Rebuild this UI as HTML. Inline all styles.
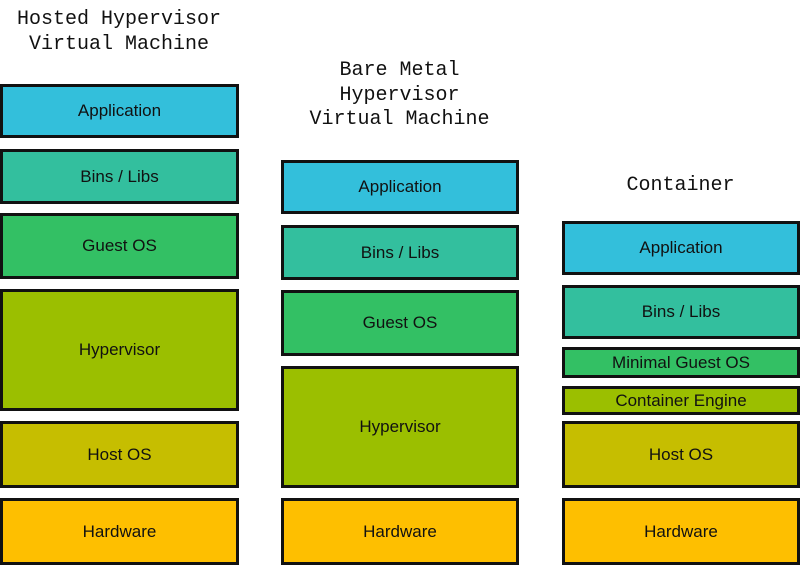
<!DOCTYPE html>
<html><head><meta charset="utf-8"><style>
html,body{margin:0;padding:0;background:#fff;width:800px;height:566px;overflow:hidden;position:relative}
.b{position:absolute;box-sizing:border-box;border:3px solid #111;display:flex;align-items:center;justify-content:center;font-family:"Liberation Sans",sans-serif;font-size:17px;color:#111}
.t{position:absolute;font-family:"Liberation Mono",monospace;font-size:20px;line-height:24.5px;color:#111;text-align:center;white-space:pre}
.ap{background:#33bfdb}.bl{background:#33bf9e}.go{background:#33c064}.hv{background:#9bbf00}.ho{background:#c6be00}.hw{background:#febf00}
</style></head><body>
<div class="t" style="left:0;width:238px;top:8px">Hosted Hypervisor
Virtual Machine</div>
<div class="t" style="left:281px;width:237px;top:59px">Bare Metal
Hypervisor
Virtual Machine</div>
<div class="t" style="left:562px;width:237px;top:174px">Container</div>

<div class="b ap" style="left:0;top:84px;width:239px;height:54px">Application</div>
<div class="b bl" style="left:0;top:149px;width:239px;height:55px">Bins / Libs</div>
<div class="b go" style="left:0;top:213px;width:239px;height:66px">Guest OS</div>
<div class="b hv" style="left:0;top:289px;width:239px;height:122px">Hypervisor</div>
<div class="b ho" style="left:0;top:421px;width:239px;height:67px">Host OS</div>
<div class="b hw" style="left:0;top:498px;width:239px;height:67px">Hardware</div>

<div class="b ap" style="left:281px;top:160px;width:238px;height:54px">Application</div>
<div class="b bl" style="left:281px;top:225px;width:238px;height:55px">Bins / Libs</div>
<div class="b go" style="left:281px;top:290px;width:238px;height:66px">Guest OS</div>
<div class="b hv" style="left:281px;top:366px;width:238px;height:122px">Hypervisor</div>
<div class="b hw" style="left:281px;top:498px;width:238px;height:67px">Hardware</div>

<div class="b ap" style="left:562px;top:221px;width:238px;height:54px">Application</div>
<div class="b bl" style="left:562px;top:285px;width:238px;height:54px">Bins / Libs</div>
<div class="b go" style="left:562px;top:347px;width:238px;height:31px">Minimal Guest OS</div>
<div class="b hv" style="left:562px;top:386px;width:238px;height:29px">Container Engine</div>
<div class="b ho" style="left:562px;top:421px;width:238px;height:67px">Host OS</div>
<div class="b hw" style="left:562px;top:498px;width:238px;height:67px">Hardware</div>
</body></html>
